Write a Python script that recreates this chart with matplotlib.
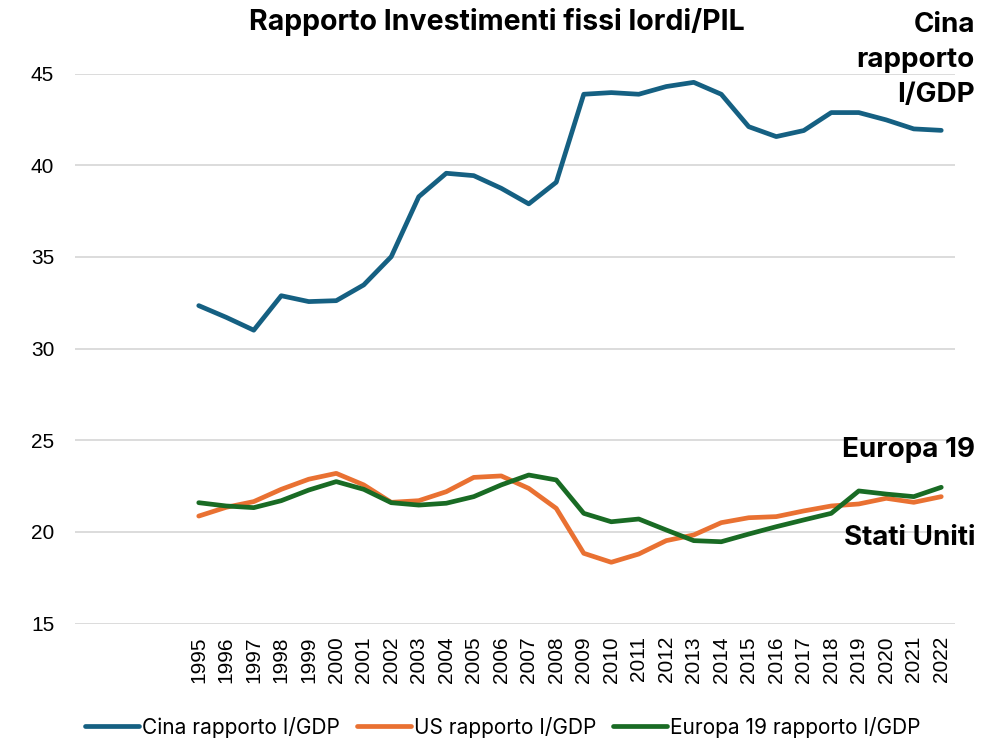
import matplotlib
matplotlib.use("Agg")
import matplotlib.pyplot as plt

years = list(range(1995, 2023))
cina = [32.34, 31.7, 31.0, 32.88, 32.56, 32.61, 33.47, 35.01, 38.28, 39.56,
        39.43, 38.74, 37.89, 39.07, 43.87, 43.96, 43.87, 44.29, 44.52, 43.87,
        42.1, 41.56, 41.89, 42.87, 42.87, 42.47, 41.98, 41.9]
us = [20.86, 21.34, 21.65, 22.32, 22.87, 23.19, 22.56, 21.61, 21.7, 22.19,
      22.97, 23.05, 22.37, 21.28, 18.83, 18.34, 18.79, 19.52, 19.83, 20.5,
      20.77, 20.83, 21.14, 21.41, 21.52, 21.83, 21.61, 21.92]
europa = [21.59, 21.41, 21.32, 21.7, 22.28, 22.74, 22.32, 21.59, 21.46, 21.56,
          21.92, 22.56, 23.1, 22.83, 21.01, 20.55, 20.7, 20.1, 19.52, 19.46,
          19.88, 20.28, 20.65, 21.01, 22.23, 22.06, 21.92, 22.43]
yticks = [15, 20, 25, 30, 35, 40, 45]

plt.rcParams['font.family'] = ['Inter', 'DejaVu Sans']

fig = plt.figure(figsize=(10, 7.42), dpi=100)
ax = fig.add_axes([0.075, 0.1597, 0.88, 0.7412])

x = list(range(len(years)))
lw = 3.4
ax.plot(x, cina, color='#156082', lw=lw, solid_capstyle='round', solid_joinstyle='round', label='Cina rapporto I/GDP')
ax.plot(x, us, color='#E97132', lw=lw, solid_capstyle='round', solid_joinstyle='round', label='US rapporto I/GDP')
ax.plot(x, europa, color='#196B24', lw=lw, solid_capstyle='round', solid_joinstyle='round', label='Europa 19 rapporto I/GDP')

ax.set_xlim(-4.5, len(years) - 0.5)
ax.set_ylim(15, 45)
ax.set_yticks(yticks)
ax.set_yticklabels([str(v) for v in yticks], fontsize=15, family='Liberation Sans')
ax.set_xticks(x)
ax.set_xticklabels([str(y) for y in years], rotation=90, fontsize=15, family='Liberation Sans')
ax.tick_params(axis='both', length=0, colors='black')
ax.tick_params(axis='y', pad=15)
ax.tick_params(axis='x', pad=9)
ax.grid(axis='y', color='#D9D9D9', lw=1.3)
ax.set_axisbelow(True)
for s in ax.spines.values():
    s.set_visible(False)

fig.text(0.497, 0.970, 'Rapporto Investimenti fissi lordi/PIL', ha='center', va='center',
         fontsize=20.5, fontweight='bold')
fig.text(0.975, 0.919, 'Cina\nrapporto\nI/GDP', ha='right', va='center', fontsize=20,
         fontweight='bold', linespacing=1.45)
fig.text(0.975, 0.393, 'Europa 19', ha='right', va='center', fontsize=20, fontweight='bold')
fig.text(0.975, 0.275, 'Stati Uniti', ha='right', va='center', fontsize=20, fontweight='bold')

fig.legend(loc='center', bbox_to_anchor=(0.503, 0.020), ncol=3, frameon=False,
           fontsize=15, handlelength=2.6, handletextpad=0.15, columnspacing=0.8)

fig.savefig('out.png', dpi=100)
